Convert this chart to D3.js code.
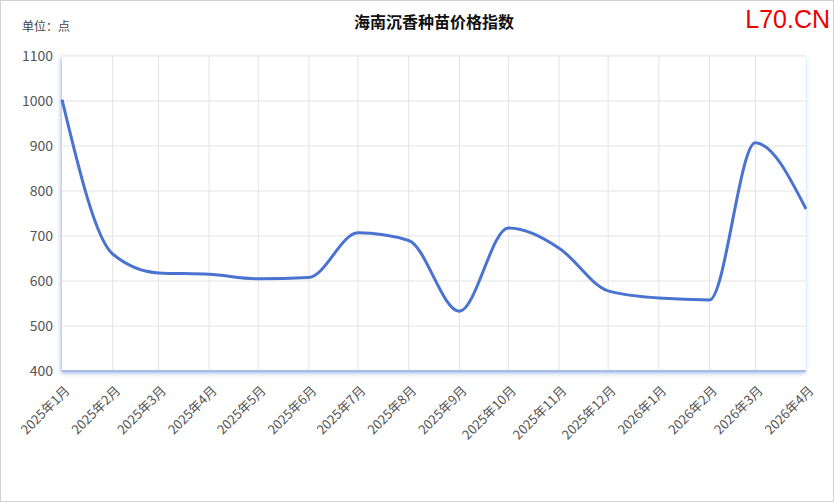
<!DOCTYPE html>
<html><head><meta charset="utf-8">
<script src="https://cdn.jsdelivr.net/npm/d3@7"></script>
<style>body{margin:0;background:#fff;}svg{display:block;font-family:"Microsoft YaHei","Noto Sans CJK SC",sans-serif;}</style>
</head><body>
<script>
const categories = ["2025年1月","2025年2月","2025年3月","2025年4月","2025年5月","2025年6月","2025年7月","2025年8月","2025年9月","2025年10月","2025年11月","2025年12月","2026年1月","2026年2月","2026年3月","2026年4月"];
const dates = ["2025-01-01","2025-02-01","2025-03-01","2025-04-01","2025-05-01","2025-06-01","2025-07-01","2025-08-01","2025-09-01","2025-10-01","2025-11-01","2025-12-01","2026-01-01","2026-02-01","2026-03-01","2026-04-01"];
const values = [1003,660,618,615,605,608,707,690,533,718,673,578,562,558,907,760];
const yTicks = [400,500,600,700,800,900,1000,1100];

const W=834,H=502,L=62,R=806,T=56,B=371;
const svg=d3.select("body").append("svg").attr("width",W).attr("height",H);
svg.append("rect").attr("x",0.5).attr("y",0.5).attr("width",W-1).attr("height",H-1).attr("fill","#fff").attr("stroke","#d0d0d0");

const parse=d3.timeParse("%Y-%m-%d");
const xd=dates.map(parse);
const x=d3.scaleTime().domain([xd[0],xd[xd.length-1]]).range([L,R]);
const y=d3.scaleLinear().domain([400,1100]).range([B,T]);

const defs=svg.append("defs");
const f=defs.append("filter").attr("id","sh").attr("x","-5%").attr("y","-5%").attr("width","110%").attr("height","115%");
f.append("feDropShadow").attr("dx",-1).attr("dy",2).attr("stdDeviation",2).attr("flood-color","#4a72d0").attr("flood-opacity",0.55);
svg.append("rect").attr("x",L).attr("y",T).attr("width",R-L).attr("height",B-T).attr("fill","#fff").attr("filter","url(#sh)");

// horizontal grid
svg.append("g").selectAll("line").data(yTicks).join("line")
 .attr("x1",L).attr("x2",R).attr("y1",d=>y(d)).attr("y2",d=>y(d)).attr("stroke","#e3e3e3");
// vertical grid
svg.append("g").selectAll("line").data(xd.slice(1,-1)).join("line")
 .attr("x1",d=>x(d)).attr("x2",d=>x(d)).attr("y1",T).attr("y2",B).attr("stroke","#e3e3e3");

svg.append("line").attr("x1",L).attr("x2",R).attr("y1",B).attr("y2",B).attr("stroke","#a9bbe6").attr("stroke-width",2);

// y axis labels
svg.append("g").selectAll("text").data(yTicks).join("text")
 .attr("x",53).attr("y",d=>y(d)).attr("dy","0.35em").attr("text-anchor","end")
 .attr("font-size",14).attr("fill","#555").text(d=>d);

// x labels
svg.append("g").selectAll("text").data(categories).join("text")
 .attr("transform",(d,i)=>`translate(${x(xd[i])+2},${B+14}) rotate(-45)`)
 .attr("text-anchor","end").attr("dy","0.7em").attr("font-size",13).attr("fill","#555").text(d=>d);

const line=d3.line().x((d,i)=>x(xd[i])).y(d=>y(d)).curve(d3.curveMonotoneX);
svg.append("path").datum(values).attr("d",line).attr("fill","none").attr("stroke","#4a72d0").attr("stroke-width",3);

svg.append("text").attr("x",434).attr("y",28).attr("text-anchor","middle").attr("font-size",16).attr("font-weight","bold").attr("fill","#111").text("海南沉香种苗价格指数");
svg.append("text").attr("x",22).attr("y",31).attr("font-size",12).attr("fill","#444").text("单位：点");
svg.append("text").attr("x",830).attr("y",28).attr("text-anchor","end").attr("font-size",25).attr("fill","#e00").attr("font-family","Liberation Sans, Arial, sans-serif").text("L70.CN");
</script>
</body></html>
